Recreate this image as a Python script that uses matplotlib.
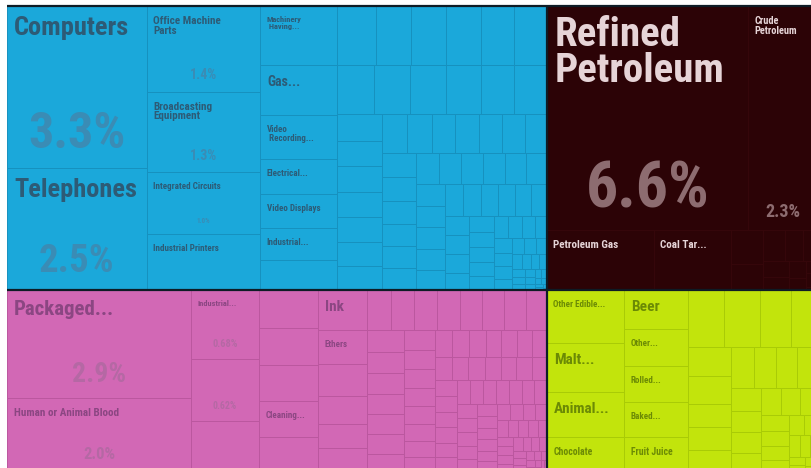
import matplotlib
matplotlib.use("Agg")
import matplotlib.pyplot as plt
from matplotlib.patches import Rectangle
from matplotlib import font_manager

# ---- data: export shares (%) per product, grouped by sector ----
machinery_labels = ["Computers", "Telephones", "Office Machine\nParts", "Broadcasting\nEquipment",
                    "Integrated Circuits", "Industrial Printers", "Machinery\n Having...", "Gas...",
                    "Video\n Recording...", "Electrical...", "Video Displays", "Industrial..."]
machinery_values = [3.3, 2.5, 1.42, 1.34, 1.02, 0.93, 0.66, 0.56, 0.49, 0.39, 0.38, 0.35, 0.34,
                    0.337, 0.302, 0.3, 0.295, 0.285, 0.278,
                    0.27, 0.265, 0.26, 0.25, 0.245, 0.235,
                    0.175, 0.172, 0.17, 0.168, 0.165, 0.163, 0.16,
                    0.14, 0.138, 0.135, 0.133, 0.13, 0.128, 0.125,
                    0.118, 0.115, 0.112, 0.11, 0.107, 0.105,
                    0.104, 0.102, 0.1, 0.098, 0.096, 0.094, 0.092, 0.09, 0.09,
                    0.088, 0.086, 0.084, 0.082, 0.08, 0.078,
                    0.075, 0.072, 0.07, 0.068, 0.065, 0.062, 0.06,
                    0.057, 0.054, 0.052, 0.05, 0.047, 0.045, 0.042,
                    0.04, 0.038, 0.035, 0.033, 0.03, 0.028, 0.026,
                    0.024, 0.022, 0.02, 0.018, 0.016, 0.015, 0.014, 0.012,
                    0.011, 0.01, 0.009, 0.008, 0.007, 0.006, 0.005, 0.004, 0.003, 0.002, 0.001]

mineral_labels = ["Refined\nPetroleum", "Crude\nPetroleum", "Petroleum Gas", "Coal Tar..."]
mineral_values = [6.6, 2.3, 0.93, 0.67, 0.16, 0.12, 0.1, 0.08, 0.07, 0.06, 0.05, 0.04, 0.03,
                  0.02, 0.015, 0.01, 0.005]

chemical_labels = ["Packaged...", "Human or Animal Blood", "Industrial...", "", "", "", "", "",
                   "Cleaning...", "", "Ink", "Ethers"]
chemical_values = [2.9, 2.0, 0.68, 0.62, 0.5,
                   0.33, 0.32, 0.315, 0.31, 0.3,
                   0.29, 0.24, 0.235, 0.2, 0.175, 0.17,
                   0.138, 0.136, 0.134, 0.132, 0.13, 0.128, 0.126, 0.124,
                   0.115, 0.113, 0.111, 0.109, 0.107, 0.105,
                   0.095, 0.092, 0.088, 0.085, 0.082, 0.08, 0.078,
                   0.072, 0.07, 0.068, 0.066, 0.064, 0.062, 0.06,
                   0.059, 0.059, 0.058, 0.057, 0.056, 0.055, 0.054, 0.053, 0.052, 0.051,
                   0.05, 0.049, 0.048, 0.047, 0.046, 0.046, 0.045, 0.045, 0.044, 0.044, 0.043, 0.043,
                   0.042, 0.041, 0.04, 0.039, 0.038, 0.037, 0.036, 0.035,
                   0.034, 0.033, 0.032, 0.031, 0.03, 0.029, 0.028, 0.027,
                   0.026, 0.025, 0.024, 0.023, 0.022, 0.021, 0.02, 0.019,
                   0.018, 0.017, 0.016, 0.015, 0.014, 0.013, 0.012, 0.011,
                   0.01, 0.009, 0.008, 0.007, 0.006, 0.005, 0.004, 0.003, 0.002, 0.001]

food_labels = ["Other Edible...", "Malt...", "Animal...", "Chocolate", "Beer", "Other...",
               "Rolled...", "Baked...", "Fruit Juice"]
food_values = [0.6, 0.56, 0.5, 0.4, 0.36, 0.345, 0.33, 0.325, 0.32,
               0.31, 0.295, 0.26, 0.23,
               0.182, 0.176, 0.151, 0.145, 0.138,
               0.135, 0.13, 0.128, 0.125,
               0.1, 0.095, 0.09, 0.085, 0.08, 0.075, 0.07, 0.065, 0.06, 0.055, 0.05,
               0.045, 0.04, 0.035, 0.03, 0.025, 0.02, 0.015, 0.01, 0.008, 0.006, 0.004, 0.002]

# ---- styles ----
machinery_name_pt = [19, 19, 8, 8, 6.5, 6.5, 6, 10, 6.5, 6.5, 6.5, 6.5]
machinery_share_pt = [36, 28, 10, 10, 5]
mineral_name_pt = [29.5, 7.5, 8, 8]
mineral_share_pt = [46, 13]
chemical_name_pt = [15, 8, 6, 0, 0, 0, 0, 0, 6.5, 0, 11, 6.5]
chemical_share_pt = [20, 12, 7.5, 7]
food_name_pt = [6.5, 11, 11, 7, 11, 6.5, 6.5, 6.5, 7]
food_share_pt = []

groups = {
    "machinery": dict(values=machinery_values, labels=machinery_labels,
                      name_pt=machinery_name_pt, share_pt=machinery_share_pt,
                      fill="#1ba8da", edge="#1691bf", name_c="#2d5b76", share_c="#3a8cb5"),
    "mineral": dict(values=mineral_values, labels=mineral_labels,
                    name_pt=mineral_name_pt, share_pt=mineral_share_pt,
                    fill="#2c0306", edge="#36070b", name_c="#e6d4d7", share_c="#8d6c70"),
    "chemical": dict(values=chemical_values, labels=chemical_labels,
                     name_pt=chemical_name_pt, share_pt=chemical_share_pt,
                     fill="#d268b5", edge="#bb579f", name_c="#8b4682", share_c="#b568a4"),
    "food": dict(values=food_values, labels=food_labels,
                 name_pt=food_name_pt, share_pt=food_share_pt,
                 fill="#c2e40c", edge="#a9cb06", name_c="#6b8a05", share_c="#8fb005"),
}
layout_rows = [["machinery", "mineral"], ["chemical", "food"]]

available = {f.name for f in font_manager.fontManager.ttflist}
FONT = "DejaVu Sans"
for fam in ["Roboto Condensed", "Liberation Sans Narrow", "Roboto"]:
    if fam in available:
        FONT = fam
        break

PHI = (1 + 5 ** 0.5) / 2


def squarify(values, x0, y0, x1, y1, ratio=PHI):
    # same tiling as d3.treemapSquarify
    rects = []
    total = float(sum(values))
    n = len(values)
    i0 = 0
    while i0 < n:
        dx, dy = x1 - x0, y1 - y0
        i1 = i0
        s = values[i1]
        i1 += 1
        lo = hi = s
        alpha = max(dy / dx, dx / dy) / (total * ratio)
        beta = s * s * alpha
        best = max(hi / beta, beta / lo)
        while i1 < n:
            v = values[i1]
            s2 = s + v
            lo2, hi2 = min(lo, v), max(hi, v)
            beta = s2 * s2 * alpha
            r = max(hi2 / beta, beta / lo2)
            if r > best:
                break
            s, lo, hi, best = s2, lo2, hi2, r
            i1 += 1
        row = values[i0:i1]
        if dx < dy:
            yb = y0 + dy * s / total if i1 < n else y1
            xx = x0
            for v in row:
                w = dx * v / s
                rects.append((xx, y0, xx + w, yb))
                xx += w
            y0 = yb
        else:
            xb = x0 + dx * s / total if i1 < n else x1
            yy = y0
            for v in row:
                h = dy * v / s
                rects.append((x0, yy, xb, yy + h))
                yy += h
            x0 = xb
        total -= s
        i0 = i1
    return rects


def share_text(v):
    return f"{v:.1f}%" if v >= 1 else f"{v:.2f}%"


W, H = 811, 468
fig = plt.figure(figsize=(W / 100, H / 100), dpi=100)
ax = fig.add_axes([0, 0, 1, 1])
ax.set_xlim(0, W)
ax.set_ylim(H, 0)
ax.axis("off")

# treemap frame (runs slightly past the right and bottom of the picture)
FX0, FY0, FX1, FY1 = 7, 6, 818, 472

totals = {k: sum(g["values"]) for k, g in groups.items()}
grand = sum(totals.values())
y = FY0
group_boxes = {}
for row in layout_rows:
    row_sum = sum(totals[k] for k in row)
    yb = y + (FY1 - FY0) * row_sum / grand
    x = FX0
    for k in row:
        xr = x + (FX1 - FX0) * totals[k] / row_sum
        group_boxes[k] = (x, y, xr, yb)
        x = xr
    y = yb

for k, g in groups.items():
    gx0, gy0, gx1, gy1 = group_boxes[k]
    cells = squarify(g["values"], gx0, gy0, gx1, gy1)
    for (cx0, cy0, cx1, cy1) in cells:
        ax.add_patch(Rectangle((cx0, cy0), cx1 - cx0, cy1 - cy0, facecolor=g["fill"],
                               edgecolor=g["edge"], linewidth=0.7))
    g["cells"] = cells

# dark outlines between sectors
for k, (gx0, gy0, gx1, gy1) in group_boxes.items():
    ax.plot([gx0, gx1], [gy0, gy0], color="#0e1c26", lw=1.6, solid_capstyle="butt")
    ax.plot([gx1, gx1], [gy0, gy1], color="#0e1c26", lw=1.6, solid_capstyle="butt")

# labels
for k, g in groups.items():
    for i, (cx0, cy0, cx1, cy1) in enumerate(g["cells"]):
        if i < len(g["labels"]) and g["labels"][i] and g["name_pt"][i] > 0:
            pt = g["name_pt"][i]
            px = pt / 0.72
            ax.text(cx0 + 6 + 0.05 * px, cy0 + 10, g["labels"][i], ha="left", va="top",
                    fontsize=pt, fontweight="bold", color=g["name_c"], family=FONT,
                    linespacing=0.95)
        if i < len(g["share_pt"]) and g["share_pt"][i] > 0:
            pt = g["share_pt"][i]
            px = pt / 0.72
            ax.text((cx0 + cx1) / 2, cy1 - (10 + 0.2 * px), share_text(g["values"][i]),
                    ha="center", va="baseline", fontsize=pt, fontweight="bold",
                    color=g["share_c"], family=FONT)

fig.savefig("out.png", dpi=100, facecolor="white")
